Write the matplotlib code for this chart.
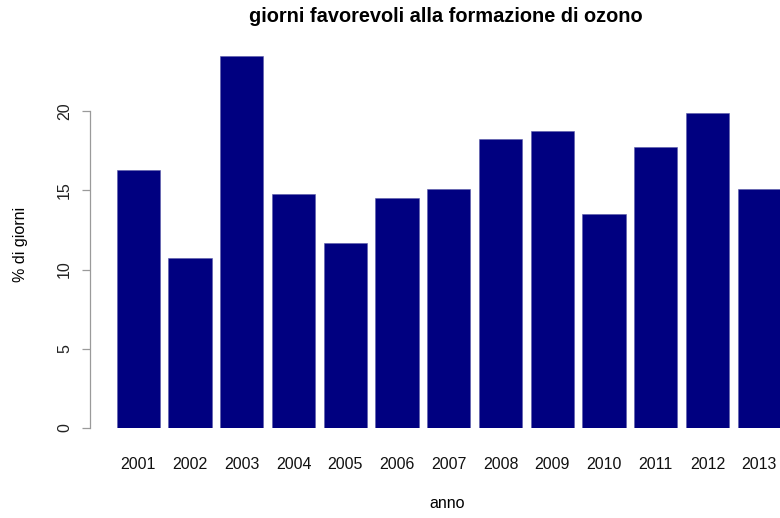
import matplotlib.pyplot as plt

anni = ["2001", "2002", "2003", "2004", "2005", "2006", "2007",
        "2008", "2009", "2010", "2011", "2012", "2013"]
perc_giorni = [16.3, 10.75, 23.45, 14.75, 11.65, 14.5, 15.05,
               18.25, 18.75, 13.5, 17.75, 19.85, 15.1]
y_ticks = [0, 5, 10, 15, 20]

plt.rcParams['font.family'] = ['Liberation Sans', 'DejaVu Sans']

W, H = 780, 518
fig = plt.figure(figsize=(W / 100, H / 100), dpi=100)

# plot region in pixels (R style barplot, cropped on the right)
px_left, px_right, px_bottom, px_top = 90, 780, 428, 40
ax = fig.add_axes([px_left / W, (H - px_bottom) / H,
                   (px_right - px_left) / W, (px_bottom - px_top) / H])

# R barplot geometry: width 1, space 0.2
unit = 43.125
x0_px = 108.1
pos = [0.7 + 1.2 * i for i in range(len(anni))]
ax.bar(pos, perc_giorni, width=1.0, color="#000080", edgecolor="#5a5aa8",
       linewidth=0.4)

ax.set_xlim((px_left - x0_px) / unit, (px_right - x0_px) / unit)
ax.set_ylim(0, (px_bottom - px_top) / 15.85)

for s in ["top", "right", "bottom"]:
    ax.spines[s].set_visible(False)
ax.spines["left"].set_bounds(0, 20)
ax.spines["left"].set_color("#9a9a9a")
ax.spines["left"].set_linewidth(0.9)

fs = 11.5
ax.set_yticks(y_ticks)
ax.set_yticklabels([str(v) for v in y_ticks], rotation=90, va="center")
ax.tick_params(axis="y", length=6, width=0.9, color="#9a9a9a", pad=7,
               labelsize=fs, labelcolor="#222222")
ax.set_xticks(pos)
ax.set_xticklabels(anni)
ax.tick_params(axis="x", length=0, pad=21, labelsize=fs, labelcolor="#111111")

fig.text(447 / W, 1 - 503 / H, "anno", ha="center", va="center", fontsize=fs)
fig.text(21 / W, 1 - 244 / H, "% di giorni", ha="center", va="center",
         rotation=90, fontsize=fs)
fig.text(446 / W, 1 - 16 / H, "giorni favorevoli alla formazione di ozono",
         ha="center", va="center", fontsize=14.4, fontweight="bold")

fig.savefig("out.png", dpi=100)
